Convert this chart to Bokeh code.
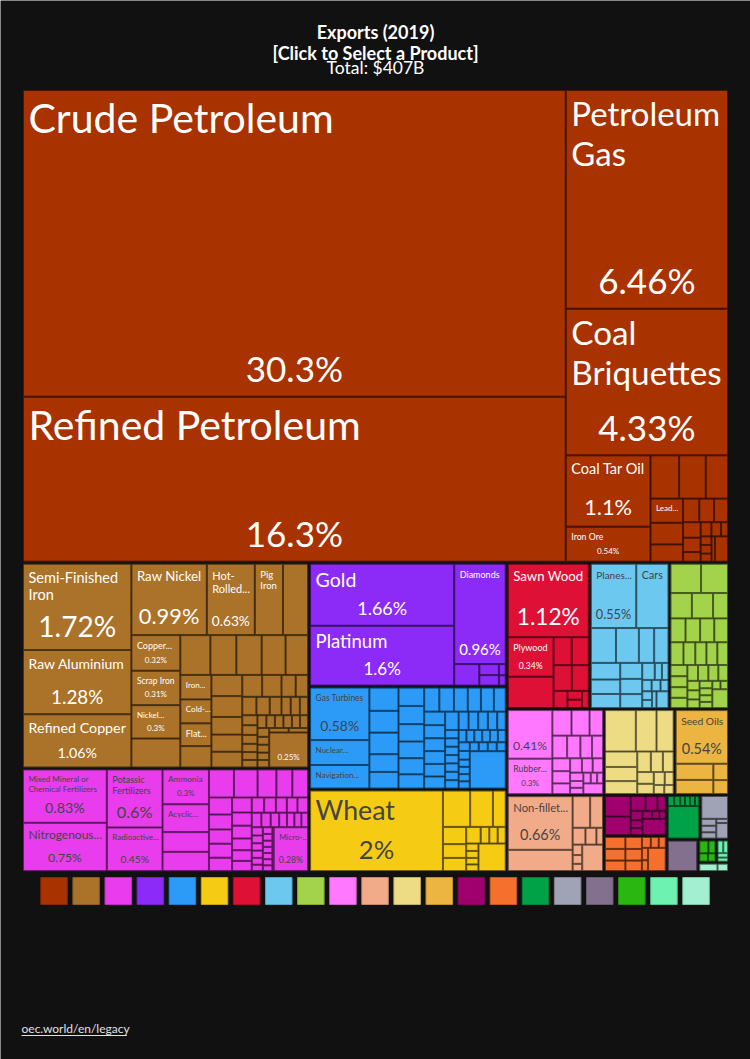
import math
from bokeh.plotting import figure
from bokeh.models import Range1d, ColumnDataSource
from bokeh.embed import file_html
from bokeh.resources import INLINE
from bokeh.core.properties import value

W, H = 750, 1059
BG = "#111111"
FONT = "Lato"

title_lines = ["Exports (2019)", "[Click to Select a Product]"]
total_label = "Total: $407B"
footer_label = "oec.world/en/legacy"

sector_names = ["Mineral Products", "Metals", "Chemical Products", "Precious Metals", "Machines",
                "Vegetable Products", "Wood Products", "Transportation", "Textiles",
                "Plastics and Rubbers", "Animal Products", "Paper Goods",
                "Animal and Vegetable Bi-Products", "Instruments", "Foodstuffs", "Stone And Glass",
                "Footwear and Headwear", "Miscellaneous", "Animal Hides", "Arts and Antiques", "Weapons"]
sector_colors = ["#A83200", "#AB7229", "#E93CEC", "#8C2BF7", "#2C9BF7", "#F5CC13", "#DE1036",
                 "#6CC8EE", "#A2D34A", "#FF78FF", "#F2AB89", "#EDDC84", "#ECB440", "#A0006E",
                 "#F56F2D", "#00A248", "#A0A2B5", "#83708F", "#2AB712", "#6EF2B1", "#A2F0D1"]

# ---- products: values are % of total exports; names only where the chart prints one ----
mineral_values = [30.3, 16.3, 6.46, 4.33, 1.1, 0.54, 0.225, 0.21, 0.175, 0.143, 0.128, 0.102, 0.07,
                  0.063, 0.06, 0.05, 0.046, 0.031, 0.028, 0.025, 0.018, 0.017, 0.017, 0.016, 0.016, 0.06]
mineral_names = {0: "Crude Petroleum", 1: "Refined Petroleum", 2: "Petroleum Gas",
                 3: "Coal Briquettes", 4: "Coal Tar Oil", 5: "Iron Ore", 9: "Lead..."}
mineral_pct = [0, 1, 2, 3, 4, 5]

metals_values = [1.72, 1.28, 1.06, 0.99, 0.63, 0.37, 0.33, 0.32, 0.31, 0.30, 0.26, 0.22, 0.19,
                 0.185, 0.175, 0.165, 0.14, 0.137, 0.13, 0.122, 0.12, 0.118, 0.1, 0.097, 0.089, 0.08,
                 0.078, 0.057, 0.05, 0.048, 0.045, 0.04, 0.031, 0.031, 0.028, 0.028, 0.027, 0.025,
                 0.023, 0.022, 0.021, 0.021, 0.02, 0.02, 0.02, 0.019, 0.019, 0.019, 0.017, 0.017,
                 0.016, 0.016, 0.016, 0.016, 0.25]
metals_names = {0: "Semi-Finished Iron", 1: "Raw Aluminium", 2: "Refined Copper", 3: "Raw Nickel",
                4: "Hot-Rolled...", 5: "Pig Iron", 7: "Copper...", 8: "Scrap Iron", 9: "Nickel...",
                16: "Iron...", 17: "Cold-...", 18: "Flat..."}
metals_pct = [0, 1, 2, 3, 4, 7, 8, 9, -1]

chem_values = [0.83, 0.75, 0.6, 0.45, 0.3, 0.24, 0.17, 0.165, 0.13, 0.123, 0.098, 0.083, 0.082,
               0.073, 0.064, 0.061, 0.06, 0.057, 0.055, 0.048, 0.047, 0.043, 0.039, 0.037, 0.035,
               0.033, 0.031, 0.03, 0.03, 0.026, 0.025, 0.023, 0.021, 0.02, 0.019, 0.018, 0.017,
               0.016, 0.015, 0.015, 0.014, 0.013, 0.012, 0.012, 0.011, 0.011, 0.011, 0.011, 0.01,
               0.01, 0.28]
chem_names = {0: "Mixed Mineral or Chemical Fertilizers", 1: "Nitrogenous...",
              2: "Potassic Fertilizers", 3: "Radioactive...", 4: "Ammonia", 5: "Acyclic...",
              -1: "Micro-..."}
chem_pct = [0, 1, 2, 3, 4, -1]

precious_values = [1.66, 1.6, 0.96, 0.1, 0.04, 0.038, 0.014, 0.013]
precious_names = {0: "Gold", 1: "Platinum", 2: "Diamonds"}
precious_pct = [0, 1, 2]

machine_values = [0.58, 0.275, 0.26, 0.126, 0.118, 0.117, 0.096, 0.09, 0.088, 0.087, 0.083, 0.08,
                  0.077, 0.068, 0.068, 0.065, 0.062, 0.059, 0.058, 0.053, 0.053, 0.051, 0.05, 0.05,
                  0.049, 0.047, 0.046, 0.034, 0.033, 0.033, 0.032, 0.029, 0.021, 0.021, 0.021,
                  0.021, 0.021, 0.021, 0.021, 0.018, 0.018, 0.018, 0.018, 0.018, 0.018, 0.018,
                  0.018, 0.015, 0.015, 0.015, 0.015, 0.015, 0.015, 0.015, 0.015, 0.25]
machine_names = {0: "Gas Turbines", 1: "Nuclear...", 2: "Navigation..."}
machine_pct = [0]

veg_values = [2.0, 0.185, 0.155, 0.087, 0.075, 0.06, 0.057, 0.045, 0.027, 0.026, 0.025, 0.017,
              0.016, 0.015, 0.015, 0.14]
veg_names = {0: "Wheat"}
veg_pct = [0]

wood_values = [1.12, 0.34, 0.27, 0.095, 0.09, 0.088, 0.082, 0.045, 0.024, 0.023, 0.022]
wood_names = {0: "Sawn Wood", 1: "Plywood"}
wood_pct = [0, 1]

transport_values = [0.55, 0.39, 0.165, 0.15, 0.1, 0.094, 0.092, 0.08, 0.078, 0.066, 0.063, 0.058,
                    0.04, 0.023, 0.021, 0.02, 0.019, 0.017, 0.016, 0.015, 0.014, 0.038]
transport_names = {0: "Planes...", 1: "Cars"}
transport_pct = [0]

textile_values = [0.17, 0.15, 0.103, 0.102, 0.072, 0.068, 0.066, 0.064, 0.062, 0.056, 0.051,
                  0.048, 0.047, 0.046, 0.036, 0.035, 0.034, 0.033, 0.032, 0.031, 0.03, 0.029,
                  0.022, 0.021, 0.02, 0.018, 0.017, 0.016, 0.015, 0.013, 0.012, 0.056]
textile_names = {}
textile_pct = []

plastic_values = [0.41, 0.3, 0.092, 0.087, 0.065, 0.063, 0.057, 0.05, 0.047, 0.043, 0.041, 0.036,
                  0.032, 0.029, 0.028, 0.021, 0.017, 0.016, 0.015, 0.013, 0.012, 0.04]
plastic_names = {1: "Rubber..."}
plastic_pct = [0, 1]

animal_values = [0.66, 0.26, 0.105, 0.077, 0.041, 0.035, 0.021, 0.019, 0.016, 0.013, 0.104]
animal_names = {0: "Non-fillet..."}
animal_pct = [0]

paper_values = [0.243, 0.163, 0.135, 0.095, 0.087, 0.079, 0.053, 0.047, 0.042, 0.037, 0.032,
                0.027, 0.022, 0.018, 0.016]
oil_values = [0.54, 0.117, 0.102, 0.046, 0.039]
oil_names = {0: "Seed Oils"}
oil_pct = [0]
instr_values = [0.103, 0.093, 0.043, 0.035, 0.024, 0.022, 0.018, 0.016, 0.015, 0.012, 0.01, 0.074]
food_values = [0.048, 0.047, 0.042, 0.039, 0.038, 0.034, 0.019, 0.017, 0.015, 0.015, 0.013, 0.081]
stone_values = [0.013, 0.012, 0.01, 0.01, 0.01, 0.009, 0.207]
foot_values = [0.124, 0.021, 0.02, 0.019, 0.01, 0.037]
misc_values = [0.185]
hides_values = [0.026, 0.02, 0.016, 0.014]
arts_values = [0.017, 0.014, 0.011, 0.01]
weapon_values = [0.033, 0.019]

sectors = [
    (mineral_values, mineral_names, mineral_pct),
    (metals_values, metals_names, metals_pct),
    (chem_values, chem_names, chem_pct),
    (precious_values, precious_names, precious_pct),
    (machine_values, machine_names, machine_pct),
    (veg_values, veg_names, veg_pct),
    (wood_values, wood_names, wood_pct),
    (transport_values, transport_names, transport_pct),
    (textile_values, textile_names, textile_pct),
    (plastic_values, plastic_names, plastic_pct),
    (animal_values, animal_names, animal_pct),
    (paper_values, {}, []),
    (oil_values, oil_names, oil_pct),
    (instr_values, {}, []),
    (food_values, {}, []),
    (stone_values, {}, []),
    (foot_values, {}, []),
    (misc_values, {}, []),
    (hides_values, {}, []),
    (arts_values, {}, []),
    (weapon_values, {}, []),
]

# ---------------- layout (d3 squarify port) ----------------
ROOT = (21.0, 88.0, 729.0, 872.0)
PAD = 1.0
PHI = (1 + 5 ** 0.5) / 2


def squarify(values, x0, y0, x1, y1):
    rects = [None] * len(values)
    n = len(values)
    i0 = i1 = 0
    total = float(sum(values))
    while i0 < n:
        dx, dy = x1 - x0, y1 - y0
        s = values[i1]
        i1 += 1
        mn = mx = s
        alpha = max(dy / dx, dx / dy) / (total * PHI)
        beta = s * s * alpha
        min_ratio = max(mx / beta, beta / mn)
        while i1 < n:
            v = values[i1]
            s2 = s + v
            mn2, mx2 = min(mn, v), max(mx, v)
            beta = s2 * s2 * alpha
            r = max(mx2 / beta, beta / mn2)
            if r > min_ratio:
                break
            s, mn, mx, min_ratio = s2, mn2, mx2, r
            i1 += 1
        row = range(i0, i1)
        if dx < dy:
            yy = y0 + dy * s / total
            xx = x0
            for j in row:
                w = dx * values[j] / s
                rects[j] = (xx, y0, xx + w, yy)
                xx += w
            y0 = yy
        else:
            xx = x0 + dx * s / total
            yy = y0
            for j in row:
                h = dy * values[j] / s
                rects[j] = (x0, yy, xx, yy + h)
                yy += h
            x0 = xx
        total -= s
        i0 = i1
    return rects


def shrink(r, p):
    return (r[0] + p, r[1] + p, r[2] - p, r[3] - p)


half = PAD / 2
sector_totals = [sum(s[0]) for s in sectors]
sector_tiles = squarify(sector_totals, *shrink(ROOT, PAD - half))

# ---------------- text metrics ----------------
CW = {" ": 0.193, "!": 0.27, "$": 0.58, "%": 0.77, "(": 0.30, ")": 0.30, "-": 0.347, ".": 0.195,
      "/": 0.37, ":": 0.22, "[": 0.30, "]": 0.30,
      "A": 0.68, "B": 0.64, "C": 0.655, "D": 0.745, "E": 0.565, "F": 0.545, "G": 0.72, "H": 0.755,
      "I": 0.285, "J": 0.40, "K": 0.665, "L": 0.495, "M": 0.905, "N": 0.755, "O": 0.80, "P": 0.60,
      "Q": 0.80, "R": 0.63, "S": 0.525, "T": 0.59, "U": 0.73, "V": 0.68, "W": 1.025, "X": 0.665,
      "Y": 0.62, "Z": 0.62, "a": 0.505, "b": 0.56, "c": 0.47, "d": 0.56, "e": 0.52, "f": 0.32,
      "g": 0.505, "h": 0.56, "i": 0.24, "j": 0.24, "k": 0.505, "l": 0.24, "m": 0.85, "n": 0.56,
      "o": 0.56, "p": 0.555, "q": 0.56, "r": 0.36, "s": 0.425, "t": 0.345, "u": 0.56, "v": 0.495,
      "w": 0.76, "x": 0.49, "y": 0.495, "z": 0.455}
for d in "0123456789":
    CW[d] = 0.58

BASE_SHIFT = 0.42  # renderer places the alphabetic baseline this many em lower


def tw(s, size, bold=False):
    return sum(CW.get(c, 0.55) for c in s) * size * (1.04 if bold else 1.0)


def base_y(y, fs):
    return y - BASE_SHIFT * fs


def tokens(name):
    out = []
    for wi, word in enumerate(name.split(" ")):
        parts, cur = [], ""
        for k, ch in enumerate(word):
            cur += ch
            if ch == "-" and len(cur) > 1 and k + 1 < len(word) and word[k + 1] != ".":
                parts.append(cur)
                cur = ""
        if cur:
            parts.append(cur)
        for pi, part in enumerate(parts):
            out.append((part, wi > 0 and pi == 0))
    return out


def wrap(name, size, maxw):
    lines, cur = [], ""
    for t, sp in tokens(name):
        cand = (cur + (" " if sp else "") + t) if cur else t
        if cur and tw(cand, size) > maxw:
            lines.append(cur)
            cur = t
        else:
            cur = cand
    if cur:
        lines.append(cur)
    return lines


NAME_MAX, SHARE_MAX, FMIN = 41.0, 35.0, 8.0


def fit_name(name, bw, bh):
    s = NAME_MAX
    while s > FMIN:
        lines = wrap(name, s, bw)
        if all(tw(l, s) <= bw for l in lines) and len(lines) * 1.25 * s <= bh:
            return s, lines
        s -= 0.25
    return FMIN, wrap(name, FMIN, bw)


def hex_rgb(c):
    return int(c[1:3], 16), int(c[3:5], 16), int(c[5:7], 16)


def darker(c, k=0.7):
    r, g, b = hex_rgb(c)
    return "#%02x%02x%02x" % (int(r * k), int(g * k), int(b * k))


def contrast(c):
    r, g, b = hex_rgb(c)
    return "#444444" if (r * 299 + g * 587 + b * 114) / 1000 >= 128 else "#FFFFFF"


# ---------------- build geometry ----------------
rx0, ry0, rx1, ry1, rfill, rline = [], [], [], [], [], []
nx, ny, nt, nfs, ncol = [], [], [], [], []
sx, sy, st, sfs, scol = [], [], [], [], []

for si, (vals, names, pcts) in enumerate(sectors):
    tile = shrink(sector_tiles[si], half)
    color = sector_colors[si]
    kids = squarify(vals, *shrink(tile, PAD - half))
    n = len(vals)
    name_map = {(k % n): v for k, v in names.items()}
    pct_set = {(k % n) for k in pcts}
    tcol = contrast(color)
    for j, kt in enumerate(kids):
        x0, y0, x1, y1 = shrink(kt, half)
        rx0.append(x0); ry0.append(y0); rx1.append(x1); ry1.append(y1)
        rfill.append(color); rline.append(darker(color, 0.45))
        w, h = x1 - x0, y1 - y0
        sh = min(50.0, (h - 2) * 0.5)
        if sh < 10:
            sh = 0.0
        if j in pct_set:
            txt = f"{vals[j]:.3g}%"
            fs = min(SHARE_MAX, (sh + 2 - 10) / 1.2, (w - 10) / tw(txt, 1.0))
            fs = max(fs, FMIN)
            sx.append((x0 + x1) / 2); sy.append(base_y(y1 - 5 - 0.24 * fs, fs)); st.append(txt)
            sfs.append(f"{fs:.2f}px"); scol.append(tcol)
        if j in name_map:
            fs, lines = fit_name(name_map[j], w - 10, h - sh - 7)
            for li, line in enumerate(lines):
                nx.append(x0 + 5); ny.append(base_y(y0 + 5 + li * 1.2 * fs + 0.96 * fs, fs))
                nt.append(line); nfs.append(f"{fs:.2f}px"); ncol.append(tcol)

# ---------------- figure ----------------
p = figure(width=W, height=H, x_range=Range1d(0, W), y_range=Range1d(H, 0),
           output_backend="svg", toolbar_location=None, x_axis_type=None, y_axis_type=None,
           min_border=0, background_fill_color=BG, border_fill_color=BG, outline_line_color=None)
p.grid.visible = False

p.quad(left="x0", right="x1", top="y0", bottom="y1", fill_color="fill", line_color="line",
       line_width=1, source=ColumnDataSource(dict(x0=rx0, x1=rx1, y0=ry0, y1=ry1, fill=rfill, line=rline)))

p.text(x="x", y="y", text="t", text_font_size="fs", text_color="c", text_align="left",
       text_baseline="alphabetic", text_font=value(FONT),
       source=ColumnDataSource(dict(x=nx, y=ny, t=nt, fs=nfs, c=ncol)))
p.text(x="x", y="y", text="t", text_font_size="fs", text_color="c", text_align="center",
       text_baseline="alphabetic", text_font=value(FONT),
       source=ColumnDataSource(dict(x=sx, y=sy, t=st, fs=sfs, c=scol)))

# titles
TFS = 18.0
p.text(x=[W / 2, W / 2], y=[base_y(39, TFS), base_y(60, TFS)], text=title_lines, text_font=value(FONT),
       text_font_style="bold", text_font_size=f"{TFS}px", text_color="#FFFFFF", text_align="center",
       text_baseline="alphabetic")
p.text(x=[W / 2], y=[base_y(74, 17.5)], text=[total_label], text_font=value(FONT), text_font_size="17.5px",
       text_color="#FFFFFF", text_align="center", text_baseline="alphabetic")

# legend
LEG_X0, LEG_STEP, LEG_SIZE, LEG_Y0 = 40.3, 32.1, 26.5, 877.0
lx0 = [LEG_X0 + i * LEG_STEP for i in range(len(sector_colors))]
p.quad(left=lx0, right=[x + LEG_SIZE for x in lx0], top=[LEG_Y0] * len(lx0),
       bottom=[LEG_Y0 + 27] * len(lx0), fill_color=sector_colors,
       line_color=[darker(c, 0.8) for c in sector_colors], line_width=1)

# footer
FX, FY, FS = 21.0, 1033.0, 12.0
p.text(x=[FX], y=[base_y(FY, FS)], text=[footer_label], text_font=value(FONT), text_font_size=f"{FS}px",
       text_color="#E0E0E0", text_align="left", text_baseline="alphabetic")
p.segment(x0=[FX], y0=[FY + 2], x1=[FX + tw(footer_label, FS)], y1=[FY + 2], line_color="#E0E0E0",
          line_width=1)

open("out.html", "w").write(file_html(p, INLINE))
